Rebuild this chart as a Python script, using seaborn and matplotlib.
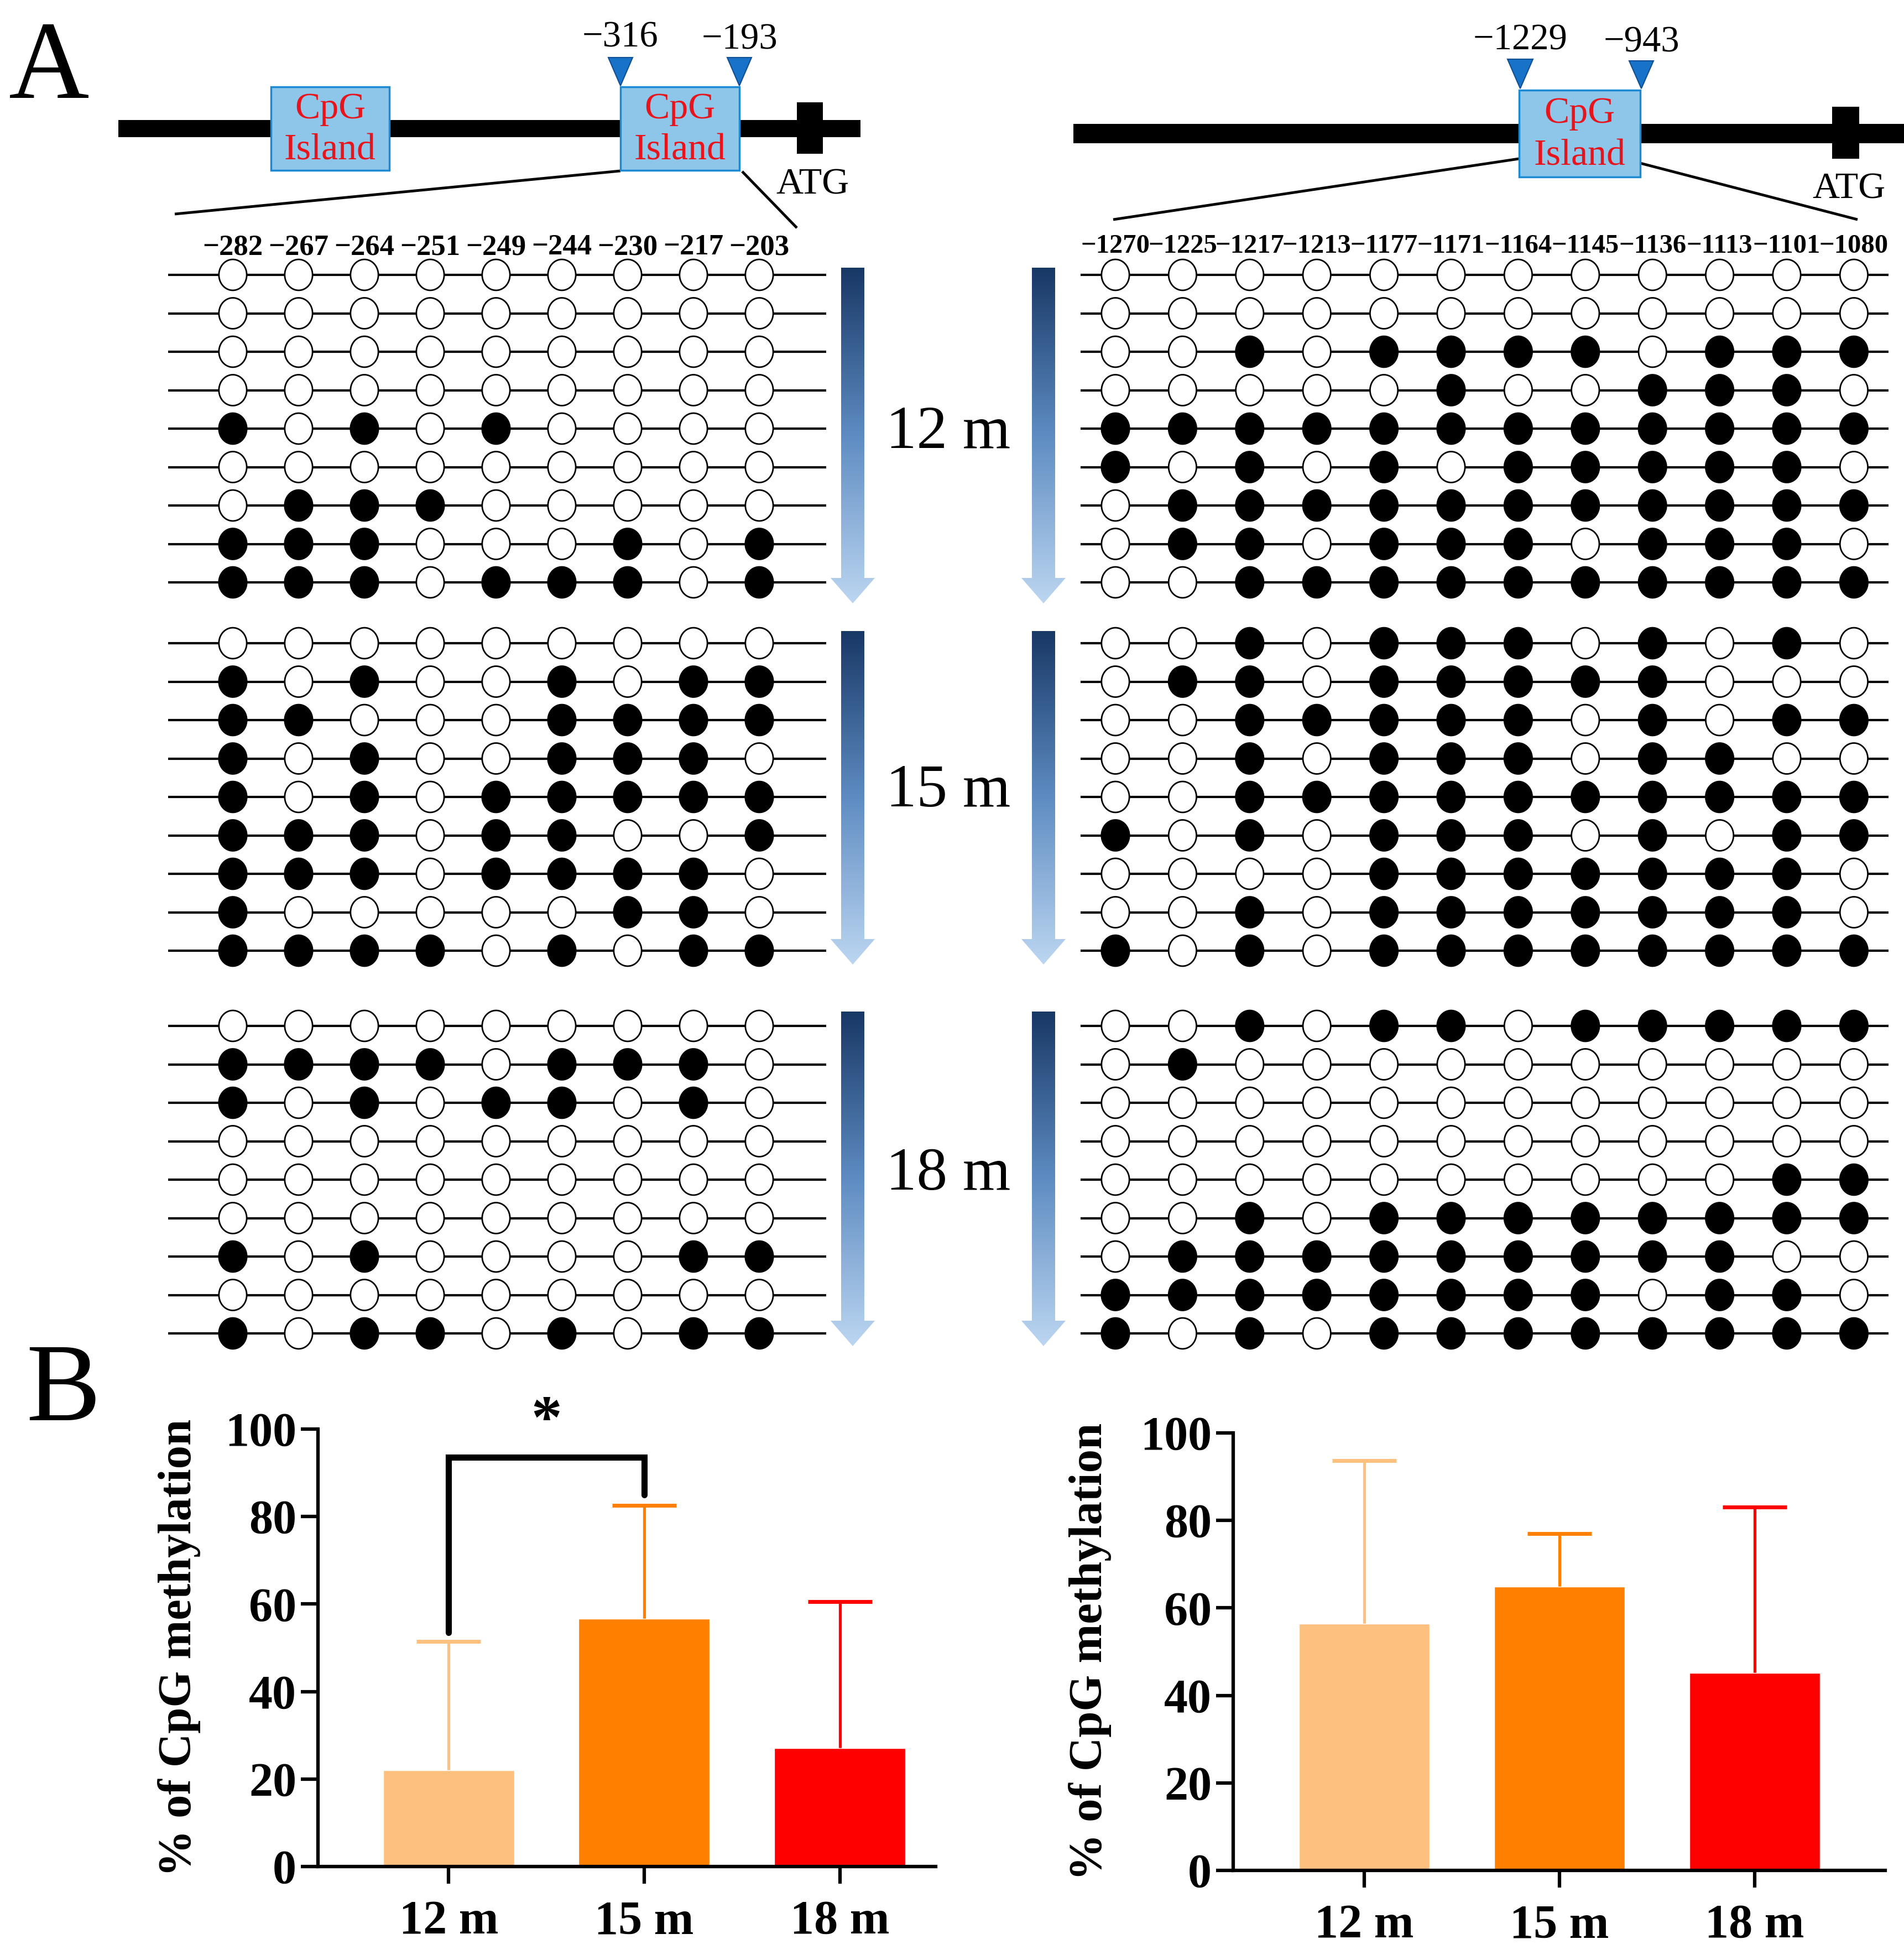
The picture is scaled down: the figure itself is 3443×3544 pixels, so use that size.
import numpy as np
import pandas as pd
import matplotlib.pyplot as plt
import seaborn as sns
from matplotlib.path import Path
from matplotlib.patches import Rectangle, Polygon
from matplotlib.colors import LinearSegmentedColormap

# ---- data ----
ages = ["12 m", "15 m", "18 m"]
left_sites = ["\u2212282", "\u2212267", "\u2212264", "\u2212251", "\u2212249",
              "\u2212244", "\u2212230", "\u2212217", "\u2212203"]
right_sites = ["\u22121270", "\u22121225", "\u22121217", "\u22121213", "\u22121177",
               "\u22121171", "\u22121164", "\u22121145", "\u22121136", "\u22121113",
               "\u22121101", "\u22121080"]

# 1 = methylated (filled), 0 = unmethylated (open); one string per clone
left_12m = ["000000000", "000000000", "000000000", "000000000", "101010000",
            "000000000", "011100000", "111000101", "111011101"]
left_15m = ["000000000", "101001011", "110001111", "101001110", "101011111",
            "111011001", "111011110", "100000110", "111101011"]
left_18m = ["000000000", "111101110", "101011010", "000000000", "000000000",
            "000000000", "101000011", "000000000", "101101011"]
right_12m = ["000000000000", "000000000000", "001011110111", "000001001110",
             "111111111111", "101010111110", "011111111111", "011011101110",
             "001111111111"]
right_15m = ["001011101010", "011011111000", "001111101011", "001011101100",
             "001111111111", "101011101011", "000011111110", "001011111110",
             "101011111111"]
right_18m = ["001011011111", "010000000000", "000000000000", "000000000000",
             "000000000011", "001011111111", "011111111100", "111111110110",
             "101011111111"]

left_mean = [22.0, 56.7, 27.1]
left_sd = [29.5, 25.8, 33.5]
right_mean = [56.4, 64.8, 45.1]
right_sd = [37.3, 12.2, 37.9]
bracket_y = [53.5, 93.5, 85.0]   # left leg bottom, top, right leg bottom
star_y = 101.5

bar_colors = ["#FDC07F", "#FF8000", "#FF0000"]

sns.set_theme(style="ticks")
plt.rcParams["font.family"] = ["Liberation Serif", "DejaVu Serif"]
plt.rcParams.update({"text.color": "black", "axes.labelcolor": "black",
                     "xtick.color": "black", "ytick.color": "black",
                     "axes.edgecolor": "black"})

W, H = 3443, 3544
fig = plt.figure(figsize=(W / 100, H / 100), dpi=100)
fig.patch.set_facecolor("white")
ax = fig.add_axes([0, 0, 1, 1])
ax.set_xlim(0, W)
ax.set_ylim(H, 0)
ax.axis("off")

# ---- gene schematics ----
box_fc, box_ec = "#8EC6EA", "#1B8AD3"
tri_fc, tri_ec = "#1873C8", "#0F4F96"


def schematic(line, boxes, atg, atg_txt, tris, tri_lbls, zooms):
    ax.add_patch(Rectangle(line[:2], line[2], line[3], fc="black", ec="none", zorder=2))
    for bx, by, bw, bh in boxes:
        ax.add_patch(Rectangle((bx, by), bw, bh, fc=box_fc, ec=box_ec, lw=2.5, zorder=4))
        ax.text(bx + bw / 2, by + bh * 0.27, "CpG", color="#E8141B", fontsize=49,
                ha="center", va="center", zorder=5)
        ax.text(bx + bw / 2, by + bh * 0.76, "Island", color="#E8141B", fontsize=49,
                ha="center", va="center", zorder=5)
    ax.add_patch(Rectangle(atg[:2], atg[2], atg[3], fc="black", ec="none", zorder=3))
    ax.text(atg_txt[0], atg_txt[1], "ATG", fontsize=49, ha="center", va="center")
    for (tx, ty0, ty1, tw), (lbl, ly) in zip(tris, tri_lbls):
        ax.add_patch(Polygon([(tx - tw / 2, ty0), (tx + tw / 2, ty0), (tx, ty1)],
                             closed=True, fc=tri_fc, ec=tri_ec, lw=1.5, zorder=4))
        ax.text(tx, ly, lbl, fontsize=48, ha="center", va="center")
    for (x0, y0), (x1, y1) in zooms:
        ax.plot([x0, x1], [y0, y1], color="black", lw=3.5, zorder=3,
                solid_capstyle="butt")


schematic((214, 217, 1342, 31),
          [(490, 157, 214, 151), (1122, 157, 215, 151)],
          (1441, 185, 47, 93), (1470, 334),
          [(1122, 104, 155, 44), (1337, 104, 155, 44)],
          [("\u2212316", 68), ("\u2212193", 72)],
          [((1122, 309), (316, 387)), ((1342, 310), (1441, 412))])

schematic((1941, 224, 1502, 35),
          [(2747, 163, 219, 157)],
          (3313, 193, 49, 94), (3343, 342),
          [(2749, 107, 160, 46), (2968, 110, 160, 44)],
          [("\u22121229", 73), ("\u2212943", 77)],
          [((2747, 287), (2013, 397)), ((2966, 295), (3359, 397))])

# ---- lollipop grids ----
t = np.linspace(0, 2 * np.pi, 64)
oval = Path(np.column_stack([0.9 * np.cos(t), np.sin(t)]), closed=True)

DY = 69.5
left_x = [421 + 119 * i for i in range(len(left_sites))]
right_x = [2017 + 121.4 * i for i in range(len(right_sites))]
grid_top = [497, 1163, 1855]


def draw_grid(pattern, xs, y0, x_ext):
    recs = []
    for r, s in enumerate(pattern):
        for c, ch in enumerate(s):
            recs.append({"x": xs[c], "y": y0 + r * DY, "m": "M" if ch == "1" else "U"})
    df = pd.DataFrame(recs)
    ax.hlines(sorted(df["y"].unique()), x_ext[0], x_ext[1], color="black", lw=3.0, zorder=1)
    sns.scatterplot(data=df, x="x", y="y", hue="m", palette={"M": "black", "U": "white"},
                    marker=oval, s=1620, edgecolor="black", linewidth=2.0,
                    legend=False, ax=ax, zorder=2)


for pat, y0 in zip([left_12m, left_15m, left_18m], grid_top):
    draw_grid(pat, left_x, y0, (304, 1494))
for pat, y0 in zip([right_12m, right_15m, right_18m], grid_top):
    draw_grid(pat, right_x, y0, (1954, 3415))

for x, lbl in zip(left_x, left_sites):
    ax.text(x, 447, lbl, fontsize=38, fontweight="bold", ha="center", va="center")
for x, lbl in zip(right_x, right_sites):
    ax.text(x, 445, lbl, fontsize=35, fontweight="bold", ha="center", va="center")

# ---- gradient arrows ----
arrow_cmap = LinearSegmentedColormap.from_list("arr", ["#183866", "#5E8CC2", "#BCD6F1"])
arrow_spans = [(484, 1091), (1141, 1744), (1829, 2434)]


def grad_arrow(cx, top, tip):
    hw, HW, HH = 21, 40, 46
    verts = [(cx - hw, top), (cx + hw, top), (cx + hw, tip - HH), (cx + HW, tip - HH),
             (cx, tip), (cx - HW, tip - HH), (cx - hw, tip - HH)]
    poly = Polygon(verts, closed=True, fc="none", ec="none")
    ax.add_patch(poly)
    grad = np.linspace(0, 1, 256).reshape(-1, 1)
    im = ax.imshow(grad, cmap=arrow_cmap, extent=[cx - HW, cx + HW, tip, top],
                   aspect="auto", zorder=1, interpolation="bilinear")
    im.set_clip_path(poly)


for (top, tip), lbl, ly in zip(arrow_spans, ages, [783, 1431, 2124]):
    grad_arrow(1542, top, tip)
    grad_arrow(1887, top, tip)
    ax.text(1715, ly, lbl, fontsize=80, ha="center", va="center")

ax.text(89, 128, "A", fontsize=145, ha="center", va="center")
ax.text(114, 2519, "B", fontsize=145, ha="center", va="center")
ax.set_xlim(0, W)
ax.set_ylim(H, 0)


# ---- bar charts ----
def bar_panel(rect, means, sds, xlim, lab_x):
    bx = fig.add_axes(rect)
    df = pd.DataFrame({"age": ages, "val": means})
    sns.barplot(data=df, x="age", y="val", hue="age", palette=bar_colors, width=0.67,
                saturation=1, errorbar=None, legend=False, ax=bx, zorder=2)
    for i, (m, s, c) in enumerate(zip(means, sds, bar_colors)):
        eb = bx.errorbar(i, m, yerr=[[0], [s]], fmt="none", ecolor=c, elinewidth=3.8,
                         capsize=42, capthick=5, zorder=1)
        eb[1][0].set_visible(False)   # hide the cap at the bar top
    bx.set_xlim(*xlim)
    bx.set_ylim(0, 100)
    bx.set_yticks(range(0, 101, 20))
    sns.despine(ax=bx)
    for sp in ("left", "bottom"):
        bx.spines[sp].set_linewidth(4.5)
        bx.spines[sp].set_color("black")
    bx.set_facecolor("none")
    bx.tick_params(axis="both", length=22, width=4.5, labelsize=62, color="black",
                   labelcolor="black")
    bx.tick_params(axis="x", pad=22)
    bx.tick_params(axis="y", pad=6)
    for tl in bx.get_xticklabels() + bx.get_yticklabels():
        tl.set_fontweight("bold")
    bx.set_xlabel("")
    bx.set_ylabel("% of CpG methylation", fontsize=61, fontweight="bold", color="black")
    bx.yaxis.set_label_coords(lab_x, 0.5)
    return bx


bl = bar_panel([575 / W, 1 - 3375 / H, 1117 / W, 791 / H], left_mean, left_sd,
               (-0.668, 2.49), -0.19)
bl.plot([0, 0, 1, 1], [bracket_y[0], bracket_y[1], bracket_y[1], bracket_y[2]],
        color="black", lw=8, clip_on=False, solid_joinstyle="miter", zorder=3)
bl.text(0.5, star_y, "*", fontsize=80, fontweight="bold", ha="center", va="center",
        clip_on=False)

bar_panel([2230 / W, 1 - 3382 / H, 1179 / W, 791 / H], right_mean, right_sd,
          (-0.671, 2.669), -0.187)

fig.savefig("out.png", dpi=100, facecolor="white")
